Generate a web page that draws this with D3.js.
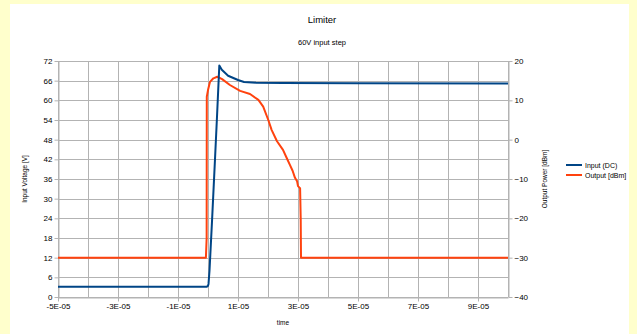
<!DOCTYPE html>
<html>
<head>
<meta charset="utf-8">
<script src="https://cdn.jsdelivr.net/npm/d3@7"></script>
<style>
  html, body { margin: 0; padding: 0; background: #ffffcc; }
  svg { display: block; font-family: "Liberation Sans", Arial, sans-serif; }
</style>
</head>
<body>
<svg id="chart" width="637" height="334"></svg>
<script>
// Time is stored in units of 1E-05 s.
const inputTime  = [-5, -3, -1, -0.3, -0.05, 0, 0.017, 0.05, 0.133, 0.233, 0.3, 0.377, 0.46, 0.67, 1.0, 1.2, 1.6, 2.5, 5, 10];
const inputVolts = [3.1, 3.1, 3.1, 3.1, 3.1, 3.4, 4, 8, 23, 42, 55, 70.6, 69.3, 67.5, 66.2, 65.6, 65.4, 65.3, 65.2, 65.1];

const outputTime = [-5, -0.07, -0.045, -0.04, 0.0, 0.067, 0.18, 0.31, 0.47, 0.73, 1.07, 1.4, 1.68, 1.84, 2.01, 2.12, 2.3, 2.5, 2.62, 2.73, 2.82, 2.9, 2.97, 3.0, 3.05, 3.07, 3.09, 3.1, 10];
const outputDbm  = [-30, -30, -25, 10.9, 12.6, 14.7, 15.6, 16.0, 15.4, 13.9, 12.4, 11.6, 10.1, 8.4, 5.0, 2.5, -0.4, -2.6, -4.6, -6.4, -7.9, -9.7, -10.6, -11.8, -12.2, -12.4, -20, -30, -30];

const xTickLabels = ["-5E-05", "-3E-05", "-1E-05", "1E-05", "3E-05", "5E-05", "7E-05", "9E-05"];
const xTickValues = [-5, -3, -1, 1, 3, 5, 7, 9];
const leftTicks  = [0, 6, 12, 18, 24, 30, 36, 42, 48, 54, 60, 66, 72];
const rightTicks = [-40, -30, -20, -10, 0, 10, 20];
const seriesNames = ["Input (DC)", "Output [dBm]"];
const seriesColors = ["#004586", "#ff420e"];

const svg = d3.select("#chart");
const plot = { left: 58, right: 508, top: 61, bottom: 297 };

// white chart panel
svg.append("rect").attr("x", 10).attr("y", 4).attr("width", 619).attr("height", 330).attr("fill", "#ffffff");

const x = d3.scaleLinear().domain([-5, 10]).range([plot.left, plot.right]);
const yL = d3.scaleLinear().domain([0, 72]).range([plot.bottom, plot.top]);
const yR = d3.scaleLinear().domain([-40, 20]).range([plot.bottom, plot.top]);

const gridColor = "#b3b3b3";

// grid
const grid = svg.append("g");
grid.selectAll("line.v").data(d3.range(-5, 10.001, 1)).join("line")
  .attr("x1", d => Math.round(x(d)) + 0.5).attr("x2", d => Math.round(x(d)) + 0.5)
  .attr("y1", plot.top).attr("y2", plot.bottom)
  .attr("stroke", gridColor).attr("stroke-width", 1);
grid.selectAll("line.h").data(leftTicks).join("line")
  .attr("x1", plot.left).attr("x2", plot.right)
  .attr("y1", d => Math.round(yL(d)) + 0.5).attr("y2", d => Math.round(yL(d)) + 0.5)
  .attr("stroke", gridColor).attr("stroke-width", 1);

// axes
const fs = 8;
function styleAxis(g) {
  g.selectAll(".domain").attr("stroke", gridColor);
  g.selectAll(".tick line").attr("stroke", gridColor);
  g.selectAll(".tick text").attr("fill", "#000").attr("font-size", fs).attr("font-family", "Liberation Sans, Arial, sans-serif");
}
svg.append("g").attr("transform", `translate(${plot.left + 0.5},0)`)
  .call(d3.axisLeft(yL).tickValues(leftTicks).tickSize(4).tickSizeOuter(0).tickPadding(2))
  .call(styleAxis);
svg.append("g").attr("transform", `translate(${plot.right + 0.5},0)`)
  .call(d3.axisRight(yR).tickValues(rightTicks).tickSize(4).tickSizeOuter(0).tickPadding(2))
  .call(styleAxis);
svg.append("g").attr("transform", `translate(0,${plot.bottom + 0.5})`)
  .call(d3.axisBottom(x).tickValues(xTickValues).tickFormat((d, i) => xTickLabels[i]).tickSize(4).tickSizeOuter(0).tickPadding(2))
  .call(styleAxis);

// series
const lineL = d3.line().x((d, i) => x(inputTime[i])).y(d => yL(d));
const lineR = d3.line().x((d, i) => x(outputTime[i])).y(d => yR(d));
svg.append("path").attr("d", lineR(outputDbm)).attr("fill", "none")
  .attr("stroke", seriesColors[1]).attr("stroke-width", 2).attr("stroke-linejoin", "round");
svg.append("path").attr("d", lineL(inputVolts)).attr("fill", "none")
  .attr("stroke", seriesColors[0]).attr("stroke-width", 2).attr("stroke-linejoin", "round");

// titles
svg.append("text").attr("x", 322).attr("y", 23).attr("text-anchor", "middle")
  .attr("font-size", 9.5).attr("fill", "#000").text("Limiter");
svg.append("text").attr("x", 322).attr("y", 45).attr("text-anchor", "middle")
  .attr("font-size", 7.5).attr("fill", "#000").text("60V input step");
svg.append("text").attr("x", (plot.left + plot.right) / 2).attr("y", 325).attr("text-anchor", "middle")
  .attr("font-size", 6.5).attr("fill", "#000").text("time");
svg.append("text").attr("transform", `translate(27,${(plot.top + plot.bottom) / 2}) rotate(-90)`)
  .attr("text-anchor", "middle").attr("font-size", 6.5).attr("fill", "#000").text("Input Voltage [V]");
svg.append("text").attr("transform", `translate(547,${(plot.top + plot.bottom) / 2}) rotate(-90)`)
  .attr("text-anchor", "middle").attr("font-size", 6.5).attr("fill", "#000").text("Output Power [dBm]");

// legend
const legend = svg.append("g").attr("transform", "translate(566,165)");
seriesNames.forEach((name, i) => {
  const gy = i * 10;
  legend.append("line").attr("x1", 0).attr("x2", 16).attr("y1", gy).attr("y2", gy)
    .attr("stroke", seriesColors[i]).attr("stroke-width", 2);
  legend.append("text").attr("x", 19).attr("y", gy + 2.5).attr("font-size", 7).attr("fill", "#000").text(name);
});
</script>
</body>
</html>
